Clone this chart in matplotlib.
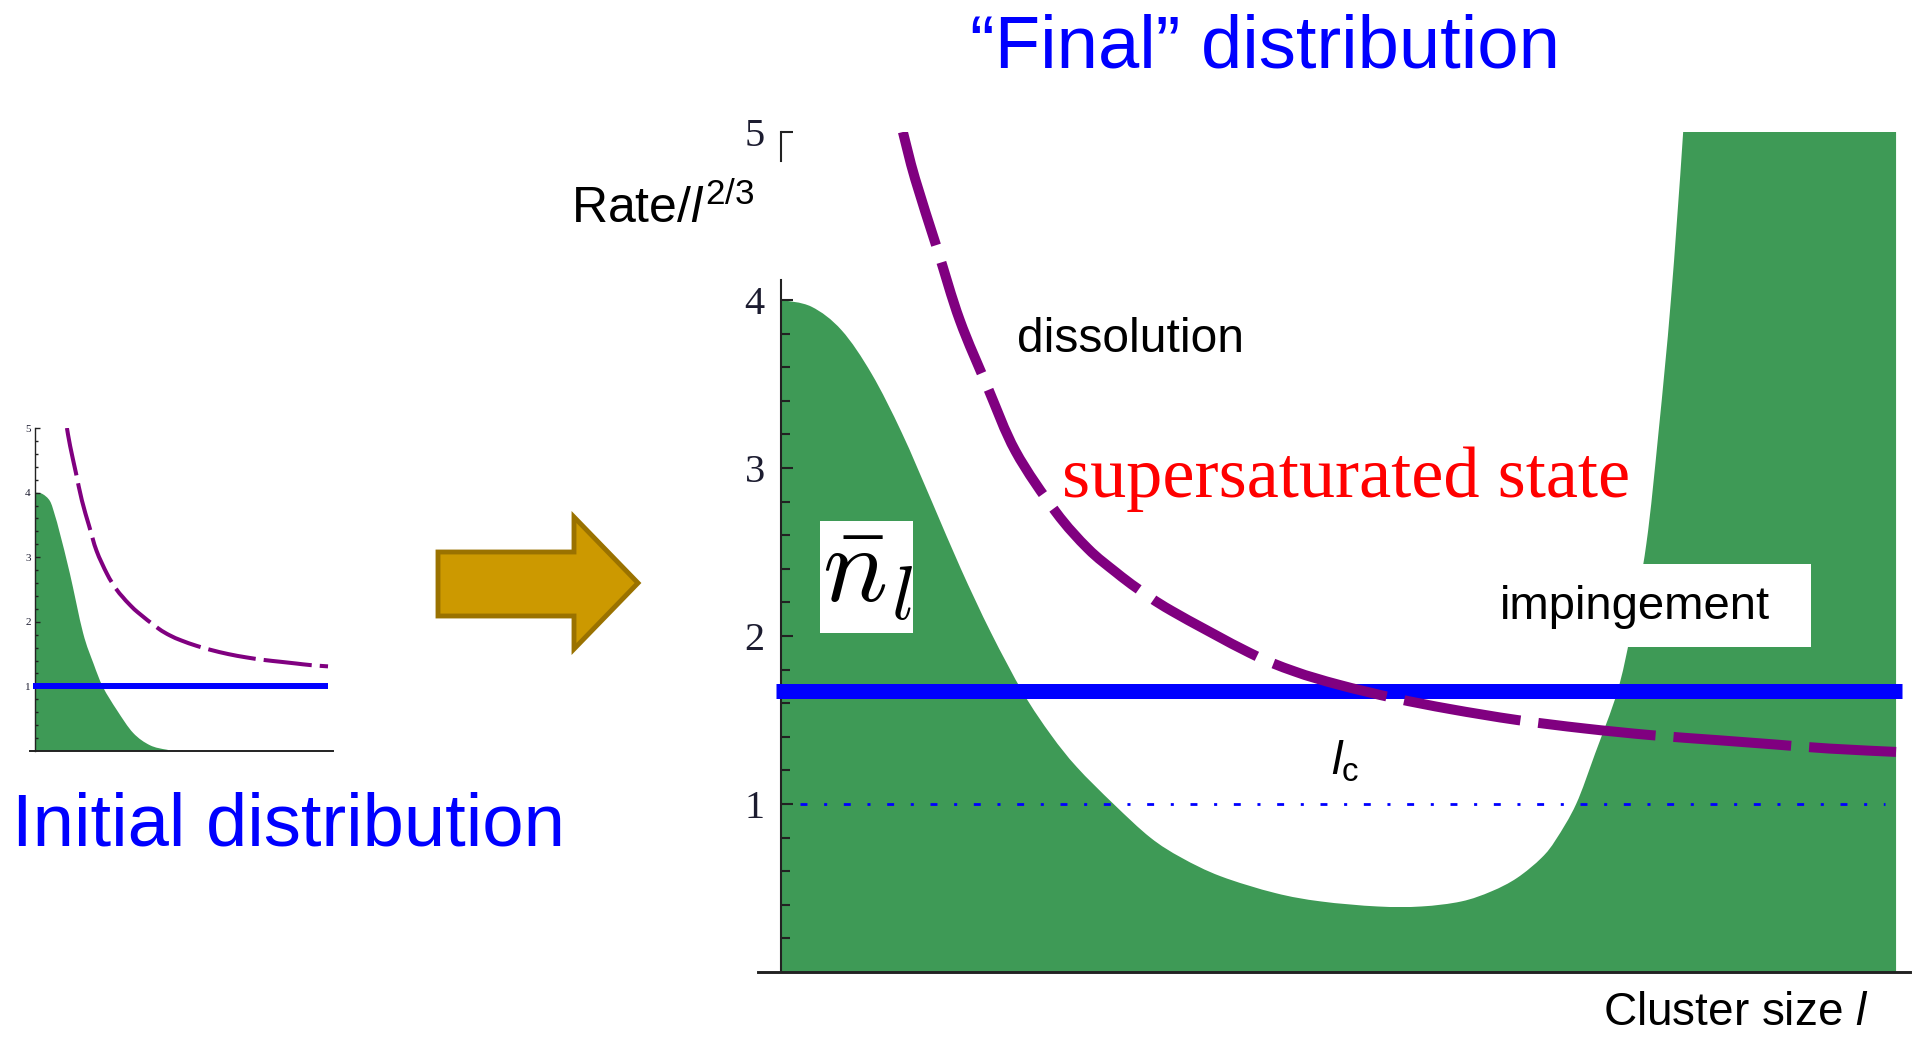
import matplotlib
matplotlib.use("Agg")
import matplotlib.pyplot as plt
import numpy as np
from matplotlib.patches import Polygon, Rectangle, PathPatch
from matplotlib.path import Path
from matplotlib.ticker import FixedLocator

plt.rcParams['font.family'] = ['Liberation Sans', 'DejaVu Sans']
plt.rcParams['mathtext.fontset'] = 'custom'
plt.rcParams['mathtext.rm'] = 'Liberation Sans'
plt.rcParams['mathtext.it'] = 'Liberation Sans:italic'
plt.rcParams['mathtext.bf'] = 'Liberation Sans:bold'

W, H = 1914, 1037

# dissolution rate / l^(2/3) (same curve in both panels)
diss_x = [1.09, 1.20, 1.40, 1.60, 1.85, 2.10, 2.46, 2.75, 3.00, 3.20, 3.50,
          4.20, 4.60, 5.00, 5.50, 6.00, 6.60, 7.20, 7.80, 8.40, 8.90, 9.40, 10.00]
diss_y = [5.00, 4.72, 4.30, 3.88, 3.48, 3.10, 2.74, 2.52, 2.38, 2.28, 2.15,
          1.90, 1.79, 1.71, 1.63, 1.565, 1.50, 1.45, 1.41, 1.38, 1.355, 1.33, 1.31]

# initial cluster distribution
init_x = [0.00, 0.25, 0.51, 0.68, 0.85, 1.19, 1.64, 2.00, 2.32, 2.80, 3.35,
          3.92, 4.50, 5.05, 10.0]
init_n = [4.00, 3.98, 3.87, 3.65, 3.37, 2.75, 1.83, 1.35, 0.99, 0.63, 0.28,
          0.09, 0.02, 0.00, 0.00]

# "final" cluster distribution
final_x = [0.00, 0.27, 0.54, 0.81, 1.08, 1.35, 1.61, 1.88, 2.17, 2.42, 2.65,
           2.98, 3.31, 3.59, 3.94, 4.43, 4.84, 5.35, 5.74, 6.10, 6.37, 6.60,
           6.82, 6.95, 7.13, 7.30, 7.50, 7.62, 7.76, 7.87, 7.98, 8.09, 8.18, 10.00]
final_n = [4.00, 3.96, 3.82, 3.56, 3.21, 2.80, 2.40, 2.02, 1.66, 1.41, 1.22,
           1.00, 0.80, 0.68, 0.57, 0.47, 0.42, 0.39, 0.39, 0.42, 0.48, 0.56,
           0.68, 0.79, 1.00, 1.30, 1.67, 2.02, 2.55, 3.22, 4.00, 5.00, 6.00, 6.00]

# impingement rates
init_imp_x = [-0.07, 10.0]
init_imp_y = [1.0, 1.0]
final_imp_x = [-0.05, 10.05]
final_imp_y = [1.67, 1.67]
unit_x = [0.17, 9.90]
unit_y = [1.0, 1.0]

yticks = [1, 2, 3, 4, 5]

green = '#3E9A56'
purple = '#800080'
blue = '#0000FF'
axis_col = '#222222'


def fx(px):
    return px / W


def fy(py):
    return 1 - py / H


def smooth_path(xs, ys):
    # cubic Bezier segments through the points (Catmull-Rom tangents)
    p = np.column_stack([xs, ys]).astype(float)
    n = len(p)
    verts = [p[0]]
    codes = [Path.MOVETO]
    for i in range(n - 1):
        p0 = p[i - 1] if i > 0 else p[i]
        p3 = p[i + 2] if i + 2 < n else p[i + 1]
        verts += [p[i] + (p[i + 1] - p0) / 6, p[i + 1] - (p3 - p[i]) / 6, p[i + 1]]
        codes += [Path.CURVE4] * 3
    return verts, codes


def fill_curve(ax, xs, ys, color):
    verts, codes = smooth_path(xs, ys)
    verts += [(xs[-1], 0), (xs[0], 0), (xs[0], 0)]
    codes += [Path.LINETO, Path.LINETO, Path.CLOSEPOLY]
    ax.add_patch(PathPatch(Path(verts, codes), fc=color, ec='none', zorder=1))


def dashed_curve(ax, xs, ys, color, lw, dashes):
    verts, codes = smooth_path(xs, ys)
    ax.add_patch(PathPatch(Path(verts, codes), fill=False, ec=color, lw=lw,
                           linestyle=(0, dashes), capstyle='butt', zorder=4))


def style_axis(ax, lw, major_len, minor_len, labelsize, pad, minors):
    for s in ('top', 'right'):
        ax.spines[s].set_visible(False)
    ax.spines['left'].set_position(('data', 0))
    ax.spines['left'].set_color(axis_col)
    ax.spines['bottom'].set_color(axis_col)
    ax.spines['left'].set_linewidth(lw)
    ax.spines['bottom'].set_linewidth(lw * 1.4)
    ax.set_xticks([])
    ax.set_yticks(yticks)
    ax.yaxis.set_minor_locator(FixedLocator(minors))
    ax.tick_params(axis='y', which='major', direction='in', length=major_len,
                   width=lw, pad=pad, labelsize=labelsize,
                   labelfontfamily='Liberation Serif', labelcolor='#1c1c30',
                   color=axis_col)
    ax.tick_params(axis='y', which='minor', direction='in', length=minor_len,
                   width=lw, color=axis_col)
    ax.set_facecolor('none')


fig = plt.figure(figsize=(W / 100, H / 100), dpi=100)

# ---- small panel: initial distribution ----
ax0 = fig.add_axes([fx(30), fy(751), (333 - 30) / W, (751 - 428) / H])
ax0.set_xlim(-0.17, 10.17)
ax0.set_ylim(0, 5)
fill_curve(ax0, init_x, init_n, green)
ax0.plot(init_imp_x, init_imp_y, color=blue, lw=4.3, solid_capstyle='butt', zorder=3)
dashed_curve(ax0, diss_x, diss_y, purple, 2.9, (12, 2))
style_axis(ax0, 1.0, 3.6, 2.4, 8, 3,
           [k / 5 for k in range(1, 25) if k % 5])

# ---- main panel: final distribution ----
ax = fig.add_axes([fx(758), fy(972), (1910 - 758) / W, (972 - 132) / H])
ax.set_xlim(-0.21, 10.125)
ax.set_ylim(0, 5)
fill_curve(ax, final_x, final_n, green)
ax.plot(final_imp_x, final_imp_y, color=blue, lw=10.8, solid_capstyle='butt', zorder=3)
ax.plot(unit_x, unit_y, color=blue, lw=2.0, dashes=(2.5, 6, 1.1, 6), zorder=2)
dashed_curve(ax, diss_x, diss_y, purple, 7.2, (11.8, 1.8))
style_axis(ax, 1.5, 8.6, 6.5, 29, 12,
           [k / 5 for k in range(1, 20) if k % 5])
ax.spines['left'].set_bounds(0, 4.12)
ax.plot([0, 0], [4.83, 5.0], color=axis_col, lw=1.5, clip_on=False, zorder=5)

# ---- arrow between the panels ----
arrow_px = [(438, 552), (574, 552), (574, 517), (638, 583), (574, 649),
            (574, 616), (438, 616)]
fig.patches.append(Polygon([(fx(x), fy(y)) for x, y in arrow_px], closed=True,
                           transform=fig.transFigure, fc='#CC9900', ec='#9A7200',
                           lw=3.5, joinstyle='miter', zorder=5))

# white label boxes over the plot
for x0, y0, x1, y1 in [(820, 521, 913, 633), (1465, 564, 1811, 647)]:
    fig.patches.append(Rectangle((fx(x0), fy(y1)), (x1 - x0) / W, (y1 - y0) / H,
                                 transform=fig.transFigure, fc='white', ec='none',
                                 zorder=5))

# ---- texts ----
fig.text(fx(970), fy(67), '\u201cFinal\u201d distribution', color=blue,
         fontsize=53.5, ha='left', va='baseline')
fig.text(fx(12), fy(846), 'Initial distribution', color=blue,
         fontsize=53.5, ha='left', va='baseline')
fig.text(fx(571), fy(223), r'Rate/$l^{2/3}$', fontsize=36, ha='left', va='baseline')
fig.text(fx(1017), fy(352), 'dissolution', fontsize=34.5, ha='left', va='baseline')
fig.text(fx(1062), fy(497), 'supersaturated state', color='red', fontsize=52,
         family=['Liberation Serif', 'DejaVu Serif'], ha='left', va='baseline',
         zorder=6)
fig.text(fx(1500), fy(619), 'impingement', fontsize=34, ha='left', va='baseline',
         zorder=6)
fig.text(fx(1331), fy(775), r'$l_{\mathrm{c}}$', fontsize=34, ha='left',
         va='baseline', zorder=6)
fig.text(fx(822), fy(603), r'$\bar{n}_l$', fontsize=78, math_fontfamily='cm',
         ha='left', va='baseline', zorder=6)
fig.text(fx(1603), fy(1025), r'Cluster size $l$', fontsize=33, ha='left',
         va='baseline')

fig.savefig('out.png', dpi=100)
